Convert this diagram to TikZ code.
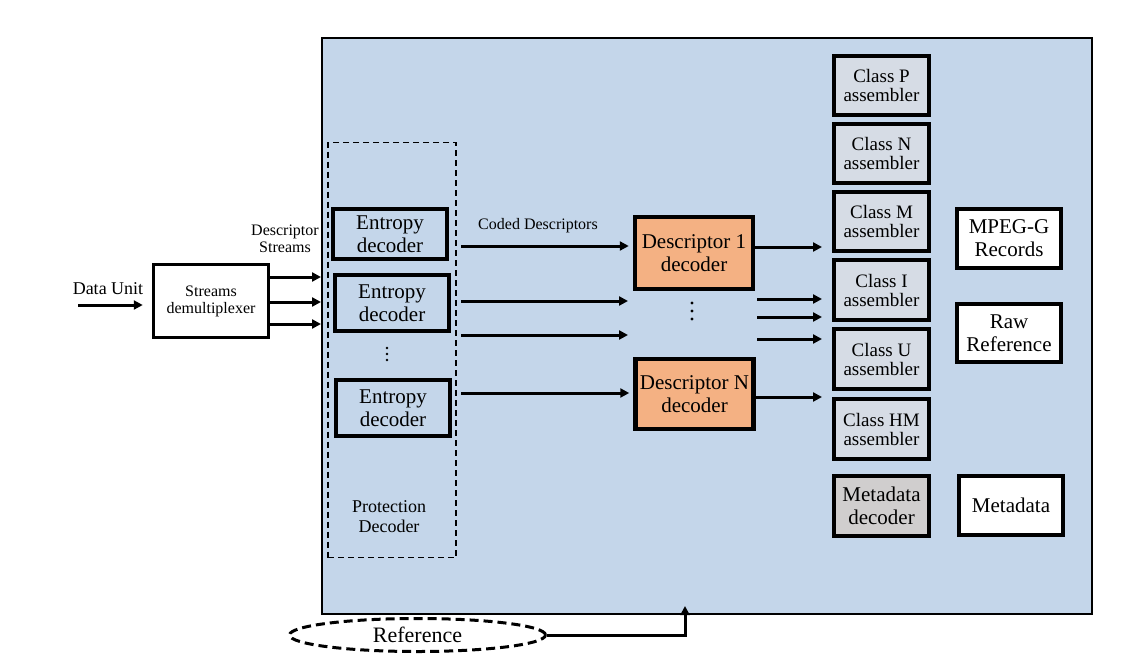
\documentclass[tikz,border=0pt]{standalone}
\usepackage{fontspec}
\setmainfont{Liberation Serif}
\usetikzlibrary{arrows.meta,shapes.geometric}
\definecolor{bgblue}{RGB}{196,214,234}
\definecolor{descor}{RGB}{244,177,131}
\definecolor{classgr}{RGB}{214,220,229}
\definecolor{metagr}{RGB}{208,206,206}
\tikzset{
  every node/.style={inner sep=0pt, align=center},
  bigtxt/.style={font=\fontsize{21}{23}\selectfont},
  clstxt/.style={font=\fontsize{19}{19}\selectfont},
  smalltxt/.style={font=\fontsize{16}{17}\selectfont},
  entbox/.style={draw, line width=4.5pt, minimum width=114pt, minimum height=54pt, bigtxt},
  descbox/.style={draw, line width=4.5pt, fill=descor, minimum width=118pt, minimum height=71pt, bigtxt},
  clsbox/.style={draw, line width=4.5pt, fill=classgr, minimum width=95pt, minimum height=59pt, clstxt},
  outbox/.style={draw, line width=4.5pt, fill=white, minimum width=104pt, minimum height=59pt, bigtxt},
  arr/.style={line width=3pt, -{Triangle[length=9pt,width=9pt]}},
  dotmark/.style={fill=black},
}
\begin{document}
\begin{tikzpicture}[x=1pt,y=-1pt]
\useasboundingbox (0,0) rectangle (1137,664);
% main box
\node[draw, line width=2pt, fill=bgblue, minimum width=770pt, minimum height=576pt] (main) at (707,326) {};
% protection decoder
\node[draw, line width=1.5pt, dash pattern=on 6pt off 4pt, minimum width=128pt, minimum height=415pt] (prot) at (392,350) {};
\node[font=\fontsize{18}{20}\selectfont] (prottxt) at (389,517) {Protection\\Decoder};
% entropy decoders
\node[entbox, minimum height=50pt] (e1) at (390,234) {Entropy\\decoder};
\node[entbox, minimum height=56pt] (e2) at (392,303) {Entropy\\decoder};
\node[entbox, minimum height=56pt] (e3) at (393,408) {Entropy\\decoder};
\foreach \yy in {348,354,360} \fill[dotmark] (387,\yy) circle (1.3pt);
% demux
\node[draw, line width=3.5pt, fill=white, minimum width=115pt, minimum height=73pt, smalltxt] (demux) at (211,301) {Streams\\demultiplexer};
\node[font=\fontsize{18}{20}\selectfont] (du) at (108,289) {Data Unit};
\coordinate (dustart) at (78,305);
\draw[arr, shorten >=9pt] (dustart) -- (demux.west |- dustart);
\node[smalltxt] (ds) at (285,239) {Descriptor\\Streams};
\coordinate (s1) at (321,277);
\coordinate (s2) at (321,302);
\coordinate (s3) at (321,324);
\draw[arr] (demux.east |- s1) -- (s1);
\draw[arr] (demux.east |- s2) -- (s2);
\draw[arr] (demux.east |- s3) -- (s3);
% descriptor decoders
\node[descbox, minimum height=72pt] (d1) at (694,253) {Descriptor 1\\decoder};
\node[descbox, minimum height=70pt] (dn) at (694.5,394) {Descriptor N\\decoder};
\foreach \yy in {303,311,319} \fill[dotmark] (692,\yy) circle (1.6pt);
\node[smalltxt] (cd) at (538,226) {Coded Descriptors};
\coordinate (a1) at (461,246);
\coordinate (a2s) at (461,301);
\coordinate (a2e) at (628,301);
\coordinate (a3s) at (461,335);
\coordinate (a3e) at (628,335);
\coordinate (a4) at (461,393);
\draw[arr, shorten >=4pt] (a1) -- (d1.west |- a1);
\draw[arr] (a2s) -- (a2e);
\draw[arr] (a3s) -- (a3e);
\draw[arr, shorten >=4pt] (a4) -- (dn.west |- a4);
% class assemblers
\node[clsbox] (cp) at (881.5,85.5) {Class P\\assembler};
\node[clsbox] (cn) at (881.5,153.5) {Class N\\assembler};
\node[clsbox] (cm) at (881.5,221.5) {Class M\\assembler};
\node[clsbox, minimum height=60pt] (ci) at (881.5,290) {Class I\\assembler};
\node[clsbox, minimum height=60pt] (cu) at (881.5,359) {Class U\\assembler};
\node[clsbox, minimum height=60pt] (chm) at (881.5,429) {Class HM\\assembler};
\node[clsbox, fill=metagr, minimum height=60pt, bigtxt] (md) at (881.5,506) {Metadata\\decoder};
% right arrows
\coordinate (r1) at (822,247);
\coordinate (r2s) at (757,299);
\coordinate (r2) at (822,299);
\coordinate (r3s) at (757,317);
\coordinate (r3) at (822,317);
\coordinate (r4s) at (757,339);
\coordinate (r4) at (822,339);
\coordinate (r5) at (822,397);
\draw[arr] (d1.east |- r1) -- (r1);
\draw[arr] (r2s) -- (r2);
\draw[arr] (r3s) -- (r3);
\draw[arr] (r4s) -- (r4);
\draw[arr] (dn.east |- r5) -- (r5);
% outputs
\node[outbox] (mpeg) at (1009,238.5) {MPEG-G\\Records};
\node[outbox, minimum height=58pt] (raw) at (1009,333) {Raw\\Reference};
\node[outbox] (meta) at (1011,505.5) {Metadata};
% reference
\node[draw, ellipse, line width=3pt, dash pattern=on 9pt off 5pt, minimum width=256pt, minimum height=33pt, font=\fontsize{22}{24}\selectfont] (ref) at (417.5,635) {Reference};
\coordinate (refin) at (685,606);
\draw[arr] (ref.east) -| (refin);
\end{tikzpicture}
\end{document}
